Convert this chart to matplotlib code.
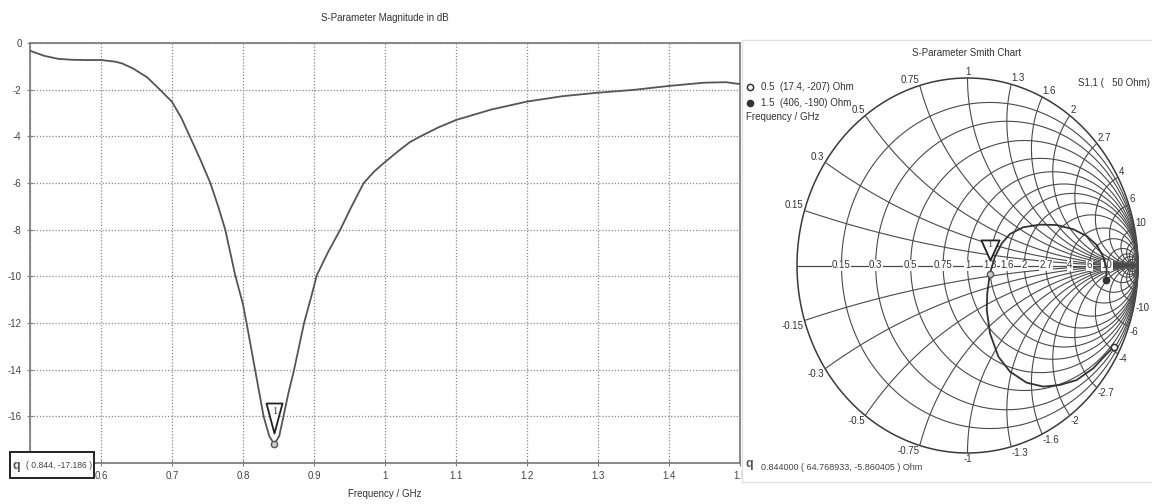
"""
S11 magnitude (dB) and Smith chart, CST-style layout.
"""

import numpy as np
import matplotlib

matplotlib.use("Agg")
import matplotlib.pyplot as plt
from matplotlib.path import Path
from matplotlib.patches import Rectangle
from matplotlib.transforms import offset_copy

# --- data --------------------------------------------------------------
freq_ghz = [0.50, 0.52, 0.54, 0.56, 0.58, 0.60, 0.62, 0.63, 0.645, 0.665, 0.683,
            0.70, 0.713, 0.725, 0.74, 0.754, 0.765, 0.775, 0.789, 0.800, 0.805,
            0.811, 0.817, 0.823, 0.829, 0.837, 0.844, 0.851, 0.857, 0.864,
            0.872, 0.879, 0.886, 0.895, 0.904, 0.92, 0.937, 0.953, 0.970,
            0.985, 1.00, 1.02, 1.035, 1.05, 1.075, 1.10, 1.15, 1.20, 1.25,
            1.30, 1.35, 1.40, 1.45, 1.48, 1.50]
s11_db = [-0.33, -0.55, -0.68, -0.72, -0.73, -0.73, -0.80, -0.88, -1.09, -1.47, -2.00,
          -2.52, -3.2, -4.00, -5.0, -6.00, -7.0, -8.00, -9.95, -11.2, -12.0,
          -13.0, -14.0, -15.0, -16.0, -16.85, -17.19, -16.85, -16.0, -15.0,
          -14.0, -13.0, -12.0, -11.0, -9.95, -8.95, -8.0, -7.0, -6.0,
          -5.5, -5.1, -4.6, -4.25, -4.0, -3.62, -3.3, -2.85, -2.51, -2.28,
          -2.13, -2.01, -1.84, -1.70, -1.68, -1.76]

# S11 trajectory on the Smith chart (reflection coefficient, 0.5 -> 1.5 GHz)
smith_re = [0.859, 0.816, 0.738, 0.640, 0.543, 0.445, 0.347, 0.249, 0.181,
            0.132, 0.113, 0.116, 0.131, 0.161, 0.201, 0.249, 0.327, 0.425,
            0.523, 0.621, 0.699, 0.758, 0.796, 0.816, 0.813]
smith_im = [-0.433, -0.472, -0.548, -0.611, -0.637, -0.646, -0.625, -0.566,
            -0.486, -0.362, -0.237, -0.148, -0.044, 0.047, 0.118, 0.168, 0.204,
            0.218, 0.216, 0.193, 0.157, 0.109, 0.047, -0.015, -0.078]

z0 = 50.0
marker_freq = 0.844
marker_db = -17.186
marker_z = (64.768933, -5.860405)
start_pt = ("0.5", 17.4, -207)
end_pt = ("1.5", 406, -190)

x_ticks = [0.5, 0.6, 0.7, 0.8, 0.9, 1.0, 1.1, 1.2, 1.3, 1.4, 1.5]
x_ticklabels = ["0.5", "0.6", "0.7", "0.8", "0.9", "1", "1.1", "1.2", "1.3", "1.4", "1.5"]
y_ticks = [0, -2, -4, -6, -8, -10, -12, -14, -16]

grid_vals = [0.15, 0.3, 0.5, 0.75, 1, 1.3, 1.6, 2, 2.7, 4, 6, 10]
grid_labels = ["0.15", "0.3", "0.5", "0.75", "1", "1.3", "1.6", "2", "2.7", "4", "6", "10"]
dense_vals = [15, 20, 30, 50, 100]

W, H = 1152, 504
plt.rcParams["font.family"] = ["Liberation Sans", "DejaVu Sans"]
plt.rcParams["axes.unicode_minus"] = False
FS = 7
TXT = "#333333"


def fx(x):
    return x / W


def fy(y):
    return 1 - y / H


def gamma(r, x):
    z = complex(r, x) / z0
    g = (z - 1) / (z + 1)
    return g.real, g.imag


fig = plt.figure(figsize=(W / 100, H / 100), dpi=100)

# --- left: magnitude in dB ----------------------------------------------
ax1 = fig.add_axes([fx(30), fy(463), 710 / W, 420 / H])
ax1.plot(freq_ghz, s11_db, color="#555555", lw=1.3, zorder=3)
ax1.set_xlim(0.5, 1.5)
ax1.set_ylim(-18, 0)
ax1.set_xticks(x_ticks)
ax1.set_xticklabels(x_ticklabels)
ax1.set_yticks(y_ticks)
ax1.grid(True, ls=(0, (1, 1.5)), color="#888888", lw=0.9)
ax1.tick_params(direction="inout", length=4, color="#808080",
                labelsize=FS, labelcolor="#444444", pad=4)
for s in ax1.spines.values():
    s.set_color("#808080")
    s.set_linewidth(1.3)

# marker 1 on the dB curve
tri = Path([(-8, 15), (8, 15), (0, -15), (-8, 15)], closed=True)
ax1.plot(marker_freq, marker_db, marker="o", ms=4.5, mfc="#cccccc",
         mec="#555555", mew=1, zorder=5)
ax1.plot(marker_freq, marker_db, marker=tri, ms=21.6, mfc="white", mec="#222222",
         mew=1.3, zorder=6,
         transform=offset_copy(ax1.transData, fig, y=25.6, units="dots"))
ax1.annotate("1", (marker_freq, marker_db), xytext=(0, 33), textcoords="offset pixels",
             ha="center", va="center", fontsize=7.5, color=TXT, zorder=7,
             family=["Liberation Serif", "DejaVu Serif"])

fig.text(fx(385), fy(18), "S-Parameter Magnitude in dB", ha="center", va="center",
         fontsize=FS, color=TXT)
fig.text(fx(385), fy(494), "Frequency / GHz", ha="center", va="center",
         fontsize=FS, color=TXT)

# readout box bottom-left
fig.patches.append(Rectangle((fx(10), fy(478)), 84 / W, 26 / H, transform=fig.transFigure,
                             facecolor="white", edgecolor="#222222", lw=1.4, zorder=10))
fig.text(fx(16), fy(466), "q", ha="center", va="center", fontsize=9,
         fontweight="bold", color="#555555", zorder=11)
fig.text(fx(26), fy(465), "( 0.844, -17.186 )", ha="left", va="center",
         fontsize=6.2, color="#444444", zorder=11)
fig.text(fx(749), fy(464), "q", ha="center", va="center", fontsize=9,
         fontweight="bold", color="#555555")

# --- right: Smith chart ---------------------------------------------------
cx, cy, rx, ry = 967.5, 265.5, 170.5, 187.5
ax2 = fig.add_axes([fx(742), fy(482), 410 / W, 442 / H])
ax2.set_xlim((742 - cx) / rx, (1152 - cx) / rx)
ax2.set_ylim(-(482 - cy) / ry, (cy - 40) / ry)
ax2.set_xticks([])
ax2.set_yticks([])
for name, s in ax2.spines.items():
    s.set_color("#e2e2e2")
    s.set_linewidth(1.0)
ax2.spines["right"].set_visible(False)

grid_c = "#4a4a4a"
t = np.linspace(0, 2 * np.pi, 1441)
# outer circle
ax2.plot(np.cos(t), np.sin(t), color="#3a3a3a", lw=1.1)
# resistance circles
for r in grid_vals + dense_vals:
    c, rad = r / (1 + r), 1 / (1 + r)
    ax2.plot(c + rad * np.cos(t), rad * np.sin(t), color=grid_c, lw=0.8)
# reactance arcs
for xv in grid_vals + dense_vals:
    for sgn in (1, -1):
        xx = sgn * xv
        rad = 1 / abs(xx)
        px_ = 1 + rad * np.cos(t)
        py_ = 1 / xx + rad * np.sin(t)
        inside = px_ ** 2 + py_ ** 2 <= 1.0005
        px_ = np.where(inside, px_, np.nan)
        py_ = np.where(inside, py_, np.nan)
        ax2.plot(px_, py_, color=grid_c, lw=0.8)
ax2.plot([-1, 1], [0, 0], color=grid_c, lw=0.9)

# labels on real axis
for r, lab in zip(grid_vals, grid_labels):
    ax2.text((r - 1) / (r + 1), 0, lab, ha="center", va="center", fontsize=FS,
             color=TXT, bbox=dict(boxstyle="square,pad=0.05", fc="white", ec="none"))

# labels on the rim
for xv, lab in zip(grid_vals, grid_labels):
    for sgn in (1, -1):
        g = complex(0, sgn * xv)
        g = (g - 1) / (g + 1)
        if abs(g.real) < 0.05:
            ha = "center"
        elif g.real < 0:
            ha = "right"
        else:
            ha = "left"
        va = "bottom" if sgn > 0 else "top"
        txt = lab if sgn > 0 else "-" + lab
        ax2.text(g.real * 1.005, g.imag * 1.005, txt, ha=ha, va=va, fontsize=FS,
                 color=TXT)

# S11 trajectory
ax2.plot(smith_re, smith_im, color="#333333", lw=1.3, zorder=4)
g0 = gamma(start_pt[1], start_pt[2])
g1 = gamma(end_pt[1], end_pt[2])
gm = gamma(*marker_z)
ax2.plot(*g0, marker="o", ms=4.5, mfc="white", mec="#333333", mew=1.1, zorder=5)
ax2.plot(*g1, marker="o", ms=4.5, mfc="#333333", mec="#333333", zorder=5)
ax2.plot(*gm, marker="o", ms=4.5, mfc="#cccccc", mec="#555555", mew=1, zorder=5)
tri2 = Path([(-9, 10), (9, 10), (0, -10), (-9, 10)], closed=True)
ax2.plot(*gm, marker=tri2, ms=14.5, mfc="white", mec="#222222", mew=1.3, zorder=6,
         transform=offset_copy(ax2.transData, fig, y=24, units="dots"))
ax2.annotate("1", gm, xytext=(0, 29), textcoords="offset pixels", ha="center",
             va="center", fontsize=7.5, color=TXT, zorder=7,
             family=["Liberation Serif", "DejaVu Serif"])

fig.text(fx(967), fy(53), "S-Parameter Smith Chart", ha="center", va="center",
         fontsize=FS, color=TXT)
fig.text(fx(1150), fy(83), "S1,1 (   50 Ohm)", ha="right", va="center",
         fontsize=FS, color=TXT)

# legend of the sweep ends
fig.lines.append(plt.Line2D([fx(750)], [fy(87)], transform=fig.transFigure, marker="o",
                            ms=4.5, mfc="white", mec="#333333", mew=1.1))
fig.lines.append(plt.Line2D([fx(750)], [fy(103)], transform=fig.transFigure, marker="o",
                            ms=4.5, mfc="#333333", mec="#333333"))
fig.text(fx(761), fy(87), f"{start_pt[0]}  ({start_pt[1]}, {start_pt[2]}) Ohm",
         ha="left", va="center", fontsize=FS, color=TXT)
fig.text(fx(761), fy(103), f"{end_pt[0]}  ({end_pt[1]}, {end_pt[2]}) Ohm",
         ha="left", va="center", fontsize=FS, color=TXT)
fig.text(fx(746), fy(117), "Frequency / GHz", ha="left", va="center",
         fontsize=FS, color=TXT)

fig.text(fx(761), fy(468), "0.844000 ( 64.768933, -5.860405 ) Ohm", ha="left",
         va="center", fontsize=6.5, color="#444444")

fig.savefig("out.png", dpi=100)
